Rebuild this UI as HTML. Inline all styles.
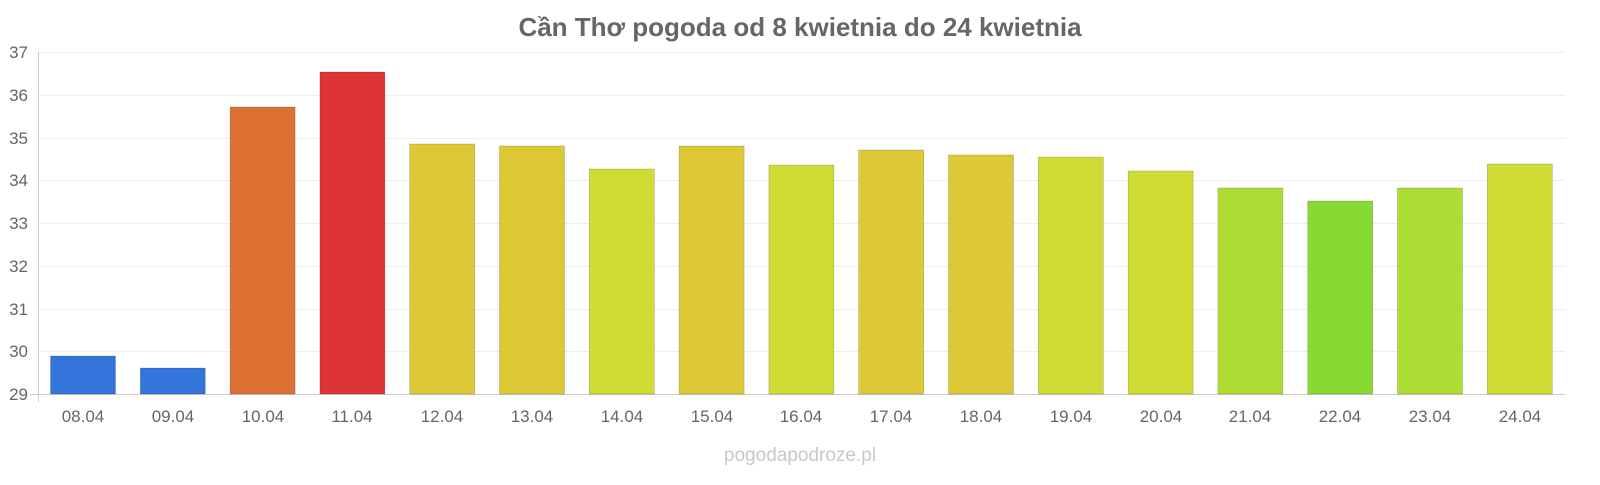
<!DOCTYPE html>
<html><head><meta charset="utf-8"><style>
body{margin:0;background:#fff;}
svg text{font-family:"Liberation Sans","Noto Sans CJK SC",sans-serif;}
</style></head><body>
<svg width="1600" height="480" xmlns="http://www.w3.org/2000/svg">
<rect width="1600" height="480" fill="#fff"/>
<text x="800" y="36" text-anchor="middle" font-size="26" font-weight="bold" fill="#666">Cần Thơ pogoda od 8 kwietnia do 24 kwietnia</text>
<g stroke="#eee" stroke-width="1">
<line x1="38" x2="1565" y1="52.5" y2="52.5"/>
<line x1="38" x2="1565" y1="95.5" y2="95.5"/>
<line x1="38" x2="1565" y1="138.5" y2="138.5"/>
<line x1="38" x2="1565" y1="180.5" y2="180.5"/>
<line x1="38" x2="1565" y1="223.5" y2="223.5"/>
<line x1="38" x2="1565" y1="266.5" y2="266.5"/>
<line x1="38" x2="1565" y1="309.5" y2="309.5"/>
<line x1="38" x2="1565" y1="351.5" y2="351.5"/>
</g>
<line x1="38.5" x2="38.5" y1="52" y2="402" stroke="#ccc"/>
<line x1="30" x2="1565" y1="394.5" y2="394.5" stroke="#ccc"/>
<g font-size="17" fill="#666" text-anchor="end">
<text x="28" y="58">37</text><text x="28" y="101">36</text><text x="28" y="144">35</text>
<text x="28" y="186">34</text><text x="28" y="229">33</text><text x="28" y="272">32</text>
<text x="28" y="315">31</text><text x="28" y="357">30</text><text x="28" y="400">29</text>
</g>
<g stroke-opacity="0.3" stroke="#000" stroke-width="0.5">
<rect x="50.5" y="356" width="65" height="38" fill="#3375db"/>
<rect x="140.3" y="368" width="65" height="26" fill="#3375db"/>
<rect x="230.1" y="107" width="65" height="287" fill="#dd7033"/>
<rect x="319.9" y="72" width="65" height="322" fill="#dd3535"/>
<rect x="409.7" y="144" width="65" height="250" fill="#dcc935"/>
<rect x="499.5" y="146" width="65" height="248" fill="#dcc935"/>
<rect x="589.3" y="169" width="65" height="225" fill="#cfdc33"/>
<rect x="679.1" y="146" width="65" height="248" fill="#dcc935"/>
<rect x="768.9" y="165" width="65" height="229" fill="#cfdc33"/>
<rect x="858.7" y="150" width="65" height="244" fill="#dcc935"/>
<rect x="948.5" y="155" width="65" height="239" fill="#dcc935"/>
<rect x="1038.3" y="157" width="65" height="237" fill="#cfdc33"/>
<rect x="1128.1" y="171" width="65" height="223" fill="#cfdc33"/>
<rect x="1217.9" y="188" width="65" height="206" fill="#addc35"/>
<rect x="1307.7" y="201" width="65" height="193" fill="#88d934"/>
<rect x="1397.5" y="188" width="65" height="206" fill="#addc35"/>
<rect x="1487.3" y="164" width="65" height="230" fill="#cfdc33"/>
</g>
<g font-size="17" fill="#666" text-anchor="middle">
<text x="83" y="422">08.04</text><text x="173" y="422">09.04</text><text x="263" y="422">10.04</text>
<text x="352" y="422">11.04</text><text x="442" y="422">12.04</text><text x="532" y="422">13.04</text>
<text x="622" y="422">14.04</text><text x="712" y="422">15.04</text><text x="801" y="422">16.04</text>
<text x="891" y="422">17.04</text><text x="981" y="422">18.04</text><text x="1071" y="422">19.04</text>
<text x="1161" y="422">20.04</text><text x="1250" y="422">21.04</text><text x="1340" y="422">22.04</text>
<text x="1430" y="422">23.04</text><text x="1520" y="422">24.04</text>
</g>
<text x="800" y="461" text-anchor="middle" font-size="19" fill="#c8c8c8">pogodapodroze.pl</text>
</svg>
</body></html>
